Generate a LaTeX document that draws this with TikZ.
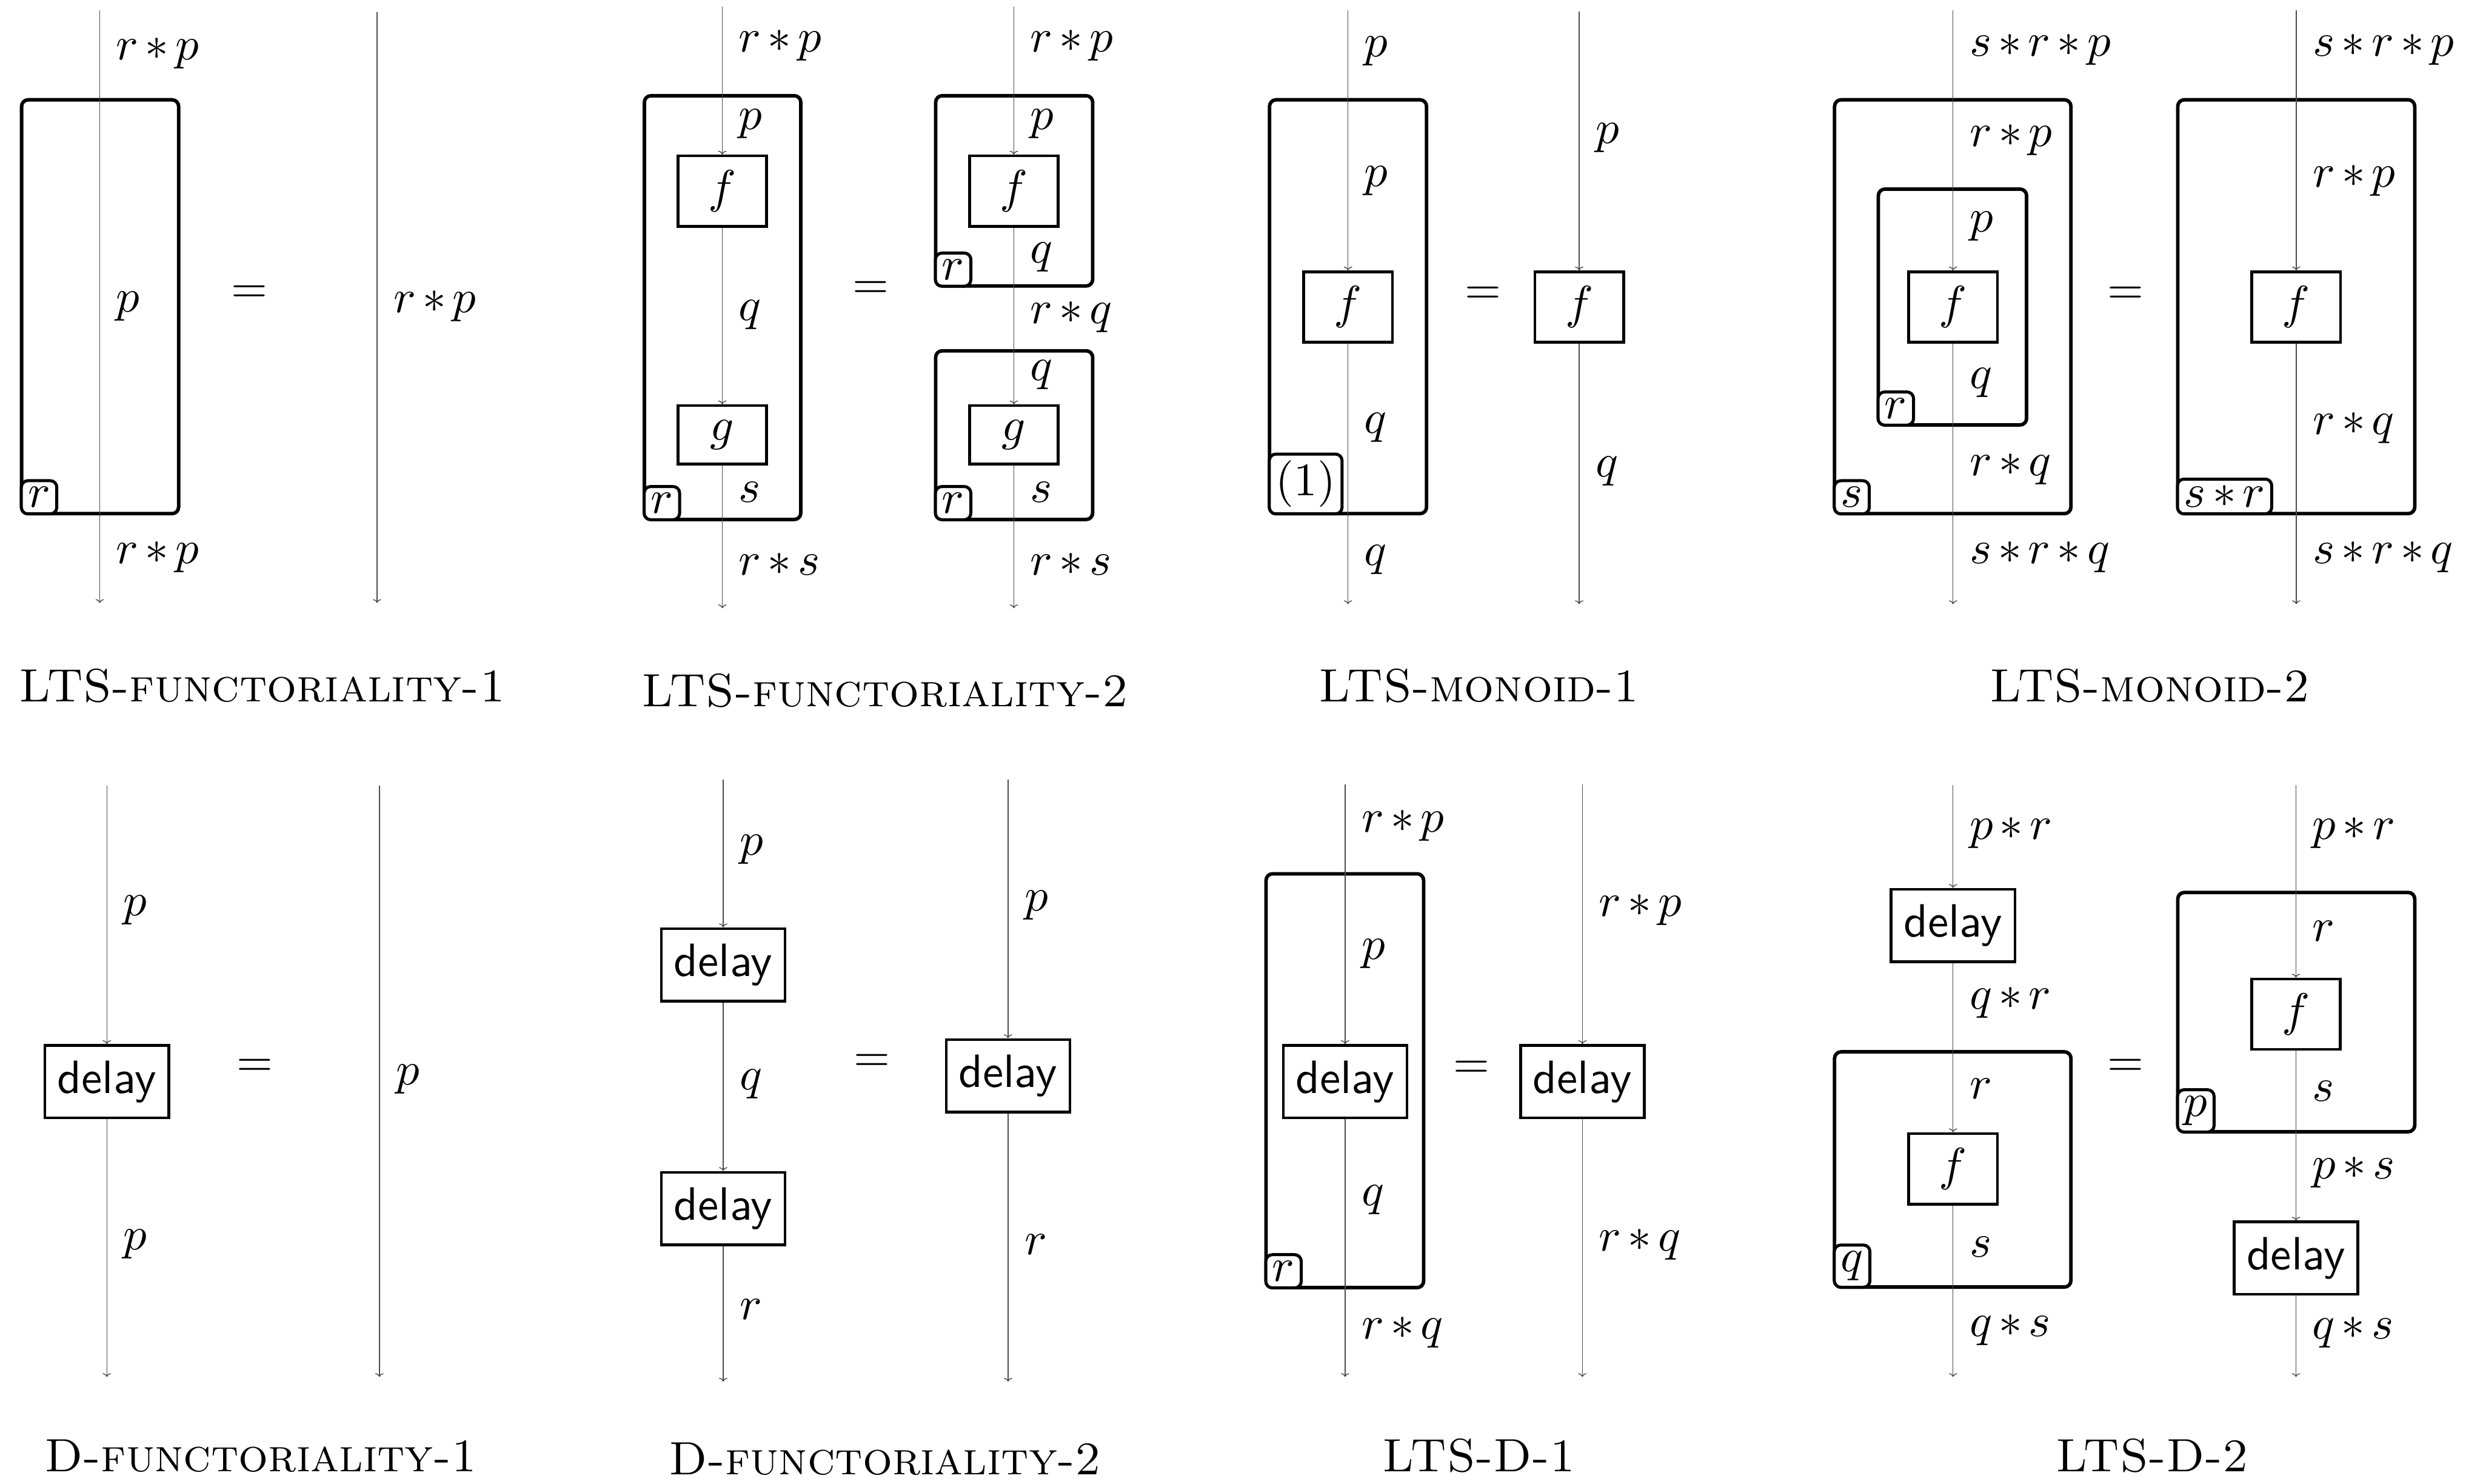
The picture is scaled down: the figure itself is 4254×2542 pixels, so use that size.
\documentclass[tikz,border=0pt]{standalone}
\usetikzlibrary{arrows.meta,fit}
\medmuskip=2.6mu plus 1mu minus 1mu
\tikzset{
  wire/.style={line width=0.18pt, draw=black!70},
  arr/.style={wire, -{To[length=0.8pt,width=1.8pt]}},
  lbl/.style={anchor=west},
  frm/.style={draw, line width=0.75pt, rounded corners=1.4pt, inner sep=0pt},
  tagbox/.style={draw, line width=0.65pt, rounded corners=1.4pt, inner sep=1.4pt, anchor=south west, fill=white},
  fbox/.style={draw, line width=0.6pt, minimum width=19pt, minimum height=15.1pt, inner sep=0pt, fill=white},
  gbox/.style={fbox, minimum height=12.5pt},
  dbox/.style={draw, line width=0.6pt, minimum width=26.5pt, minimum height=15.5pt, inner sep=0pt, font=\sffamily, fill=white},
  captxt/.style={font=\scshape}
}
\begin{document}
\begin{tikzpicture}[x=0.125pt,y=-0.125pt]
\useasboundingbox (0,0) rectangle (4254,2542);

% ================= LTS-functoriality-1 =================
\node[frm, fit={(37,171) (306,880)}] (B1) {};
\node[tagbox] (T1) at (B1.south west) {$r$};
\coordinate (w1t) at (171,18);
\coordinate (w1b) at (171,1033);
\draw[arr] (w1t) -- (w1b);
\node[lbl] (l1a) at (171,92) {$r*p$};
\node[lbl] (l1b) at (171,525) {$p$};
\node[lbl] (l1c) at (171,955) {$r*p$};
\node (e1) at (427,504) {$=$};
\coordinate (w1rt) at (646,21);
\coordinate (w1rb) at (646,1033);
\draw[arr] (w1rt) -- (w1rb);
\node[lbl] (l1d) at (646,525) {$r*p$};
\node[captxt] (c1) at (449,1175) {LTS-functoriality-1};

% ================= LTS-functoriality-2 =================
\node[frm, fit={(1104,164) (1372,890)}] (B2) {};
\node[tagbox] (T2) at (B2.south west) {$r$};
\node[fbox] (F2) at (1237.5,327.5) {$f$};
\node[gbox] (G2) at (1237.5,745) {$g$};
\coordinate (w2t) at (1237.5,11);
\coordinate (w2b) at (1237.5,1042);
\draw[arr] (w2t) -- (F2.north);
\draw[arr] (F2.south) -- (G2.north);
\draw[arr] (G2.south) -- (w2b);
\node[lbl] (l2a) at (1237.5,78) {$r*p$};
\node[lbl] (l2b) at (1237.5,212) {$p$};
\node[lbl] (l2c) at (1237.5,539) {$q$};
\node[lbl] (l2d) at (1237.5,843) {$s$};
\node[lbl] (l2e) at (1237.5,966) {$r*s$};
\node (e2) at (1492,497) {$=$};
\node[frm, fit={(1603,164) (1872,490)}] (B2a) {};
\node[tagbox] (T2a) at (B2a.south west) {$r$};
\node[frm, fit={(1603,601) (1872,890)}] (B2b) {};
\node[tagbox] (T2b) at (B2b.south west) {$r$};
\node[fbox] (F2r) at (1737,327.5) {$f$};
\node[gbox] (G2r) at (1737,745) {$g$};
\coordinate (w2rt) at (1737,11);
\coordinate (w2rb) at (1737,1042);
\draw[arr] (w2rt) -- (F2r.north);
\draw[arr] (F2r.south) -- (G2r.north);
\draw[arr] (G2r.south) -- (w2rb);
\node[lbl] (l2f) at (1737,78) {$r*p$};
\node[lbl] (l2g) at (1737,212) {$p$};
\node[lbl] (l2h) at (1737,441) {$q$};
\node[lbl] (l2i) at (1737,543) {$r*q$};
\node[lbl] (l2j) at (1737,642) {$q$};
\node[lbl] (l2k) at (1737,843) {$s$};
\node[lbl] (l2l) at (1737,966) {$r*s$};
\node[captxt] (c2) at (1516,1183) {LTS-functoriality-2};

% ================= LTS-monoid-1 =================
\node[frm, fit={(2175,171) (2444,880)}] (B3) {};
\node[tagbox] (T3) at (B3.south west) {$(1)$};
\node[fbox] (F3) at (2309.5,526) {$f$};
\coordinate (w3t) at (2309.5,18);
\coordinate (w3b) at (2309.5,1035);
\draw[arr] (w3t) -- (F3.north);
\draw[arr] (F3.south) -- (w3b);
\node[lbl] (l3a) at (2309.5,88) {$p$};
\node[lbl] (l3b) at (2309.5,310) {$p$};
\node[lbl] (l3c) at (2309.5,733) {$q$};
\node[lbl] (l3d) at (2309.5,959) {$q$};
\node (e3) at (2541,506) {$=$};
\node[fbox] (F3r) at (2705.5,526) {$f$};
\coordinate (w3rt) at (2705.5,20);
\coordinate (w3rb) at (2705.5,1035);
\draw[arr] (w3rt) -- (F3r.north);
\draw[arr] (F3r.south) -- (w3rb);
\node[lbl] (l3e) at (2705.5,236) {$p$};
\node[lbl] (l3f) at (2705.5,807) {$q$};
\node[captxt] (c3) at (2534,1175) {LTS-monoid-1};

% ================= LTS-monoid-2 =================
\node[frm, fit={(3143,171) (3548,880)}] (B4) {};
\node[tagbox] (T4) at (B4.south west) {$s$};
\node[frm, fit={(3218,324) (3472,728)}] (B4i) {};
\node[tagbox] (T4i) at (B4i.south west) {$r$};
\node[fbox] (F4) at (3346,526) {$f$};
\coordinate (w4t) at (3346,18);
\coordinate (w4b) at (3346,1035);
\draw[arr] (w4t) -- (F4.north);
\draw[arr] (F4.south) -- (w4b);
\node[lbl] (l4a) at (3346,85) {$s*r*p$};
\node[lbl] (l4b) at (3346,240) {$r*p$};
\node[lbl] (l4c) at (3346,388) {$p$};
\node[lbl] (l4d) at (3346,656) {$q$};
\node[lbl] (l4e) at (3346,804) {$r*q$};
\node[lbl] (l4f) at (3346,955) {$s*r*q$};
\node (e4) at (3642,506) {$=$};
\node[frm, fit={(3731,171) (4137,880)}] (B4r) {};
\node[tagbox] (T4r) at (B4r.south west) {$s*r$};
\node[fbox] (F4r) at (3934,526) {$f$};
\coordinate (w4rt) at (3934,18);
\coordinate (w4rb) at (3934,1035);
\draw[arr] (w4rt) -- (F4r.north);
\draw[arr] (F4r.south) -- (w4rb);
\node[lbl] (l4g) at (3934,85) {$s*r*p$};
\node[lbl] (l4h) at (3934,310) {$r*p$};
\node[lbl] (l4i) at (3934,733) {$r*q$};
\node[lbl] (l4j) at (3934,955) {$s*r*q$};
\node[captxt] (c4) at (3683,1175) {LTS-monoid-2};

% ================= D-functoriality-1 =================
\node[dbox] (D5) at (183,1853) {delay};
\coordinate (w5t) at (183,1346);
\coordinate (w5b) at (183,2359);
\draw[arr] (w5t) -- (D5.north);
\draw[arr] (D5.south) -- (w5b);
\node[lbl] (l5a) at (183,1559) {$p$};
\node[lbl] (l5b) at (183,2132) {$p$};
\node (e5) at (437,1829) {$=$};
\coordinate (w5rt) at (650,1346);
\coordinate (w5rb) at (650,2359);
\draw[arr] (w5rt) -- (w5rb);
\node[lbl] (l5c) at (650,1849) {$p$};
\node[captxt] (c5) at (447,2494) {D-functoriality-1};

% ================= D-functoriality-2 =================
\node[dbox] (D6a) at (1239,1653) {delay};
\node[dbox] (D6b) at (1239,2070.5) {delay};
\coordinate (w6t) at (1239,1336);
\coordinate (w6b) at (1239,2367);
\draw[arr] (w6t) -- (D6a.north);
\draw[arr] (D6a.south) -- (D6b.north);
\draw[arr] (D6b.south) -- (w6b);
\node[lbl] (l6a) at (1239,1455) {$p$};
\node[lbl] (l6b) at (1239,1857) {$q$};
\node[lbl] (l6c) at (1239,2243) {$r$};
\node (e6) at (1494,1821) {$=$};
\node[dbox] (D6r) at (1727,1843) {delay};
\coordinate (w6rt) at (1727,1336);
\coordinate (w6rb) at (1727,2367);
\draw[arr] (w6rt) -- (D6r.north);
\draw[arr] (D6r.south) -- (w6rb);
\node[lbl] (l6d) at (1727,1551) {$p$};
\node[lbl] (l6e) at (1727,2132) {$r$};
\node[captxt] (c6) at (1516,2500) {D-functoriality-2};

% ================= LTS-D-1 =================
\node[frm, fit={(2169,1497) (2439,2206)}] (B7) {};
\node[tagbox] (T7) at (B7.south west) {$r$};
\node[dbox] (D7) at (2304.5,1853) {delay};
\coordinate (w7t) at (2304.5,1344);
\coordinate (w7b) at (2304.5,2359);
\draw[arr] (w7t) -- (D7.north);
\draw[arr] (D7.south) -- (w7b);
\node[lbl] (l7a) at (2304.5,1415) {$r*p$};
\node[lbl] (l7b) at (2304.5,1634) {$p$};
\node[lbl] (l7c) at (2304.5,2056) {$q$};
\node[lbl] (l7d) at (2304.5,2283) {$r*q$};
\node (e7) at (2521,1832) {$=$};
\node[dbox] (D7r) at (2711,1853) {delay};
\coordinate (w7rt) at (2711,1344);
\coordinate (w7rb) at (2711,2359);
\draw[arr] (w7rt) -- (D7r.north);
\draw[arr] (D7r.south) -- (w7rb);
\node[lbl] (l7e) at (2711,1559) {$r*p$};
\node[lbl] (l7f) at (2711,2132) {$r*q$};
\node[captxt] (c7) at (2534,2494) {LTS-D-1};

% ================= LTS-D-2 =================
\node[frm, fit={(3143,1802) (3548,2205)}] (B8) {};
\node[tagbox] (T8) at (B8.south west) {$q$};
\node[dbox] (D8) at (3346,1585.5) {delay};
\node[fbox] (F8) at (3346,2002.5) {$f$};
\coordinate (w8t) at (3346,1345);
\coordinate (w8b) at (3346,2359);
\draw[arr] (w8t) -- (D8.north);
\draw[arr] (D8.south) -- (F8.north);
\draw[arr] (F8.south) -- (w8b);
\node[lbl] (l8a) at (3346,1427) {$p*r$};
\node[lbl] (l8b) at (3346,1718) {$q*r$};
\node[lbl] (l8c) at (3346,1865) {$r$};
\node[lbl] (l8d) at (3346,2136) {$s$};
\node[lbl] (l8e) at (3346,2279) {$q*s$};
\node (e8) at (3642,1829) {$=$};
\node[frm, fit={(3731,1529) (4137,1939)}] (B8r) {};
\node[tagbox] (T8r) at (B8r.south west) {$p$};
\node[fbox] (F8r) at (3933.5,1737.5) {$f$};
\node[dbox] (D8r) at (3933.5,2155.5) {delay};
\coordinate (w8rt) at (3933.5,1345);
\coordinate (w8rb) at (3933.5,2359);
\draw[arr] (w8rt) -- (F8r.north);
\draw[arr] (F8r.south) -- (D8r.north);
\draw[arr] (D8r.south) -- (w8rb);
\node[lbl] (l8f) at (3933.5,1427) {$p*r$};
\node[lbl] (l8g) at (3933.5,1595) {$r$};
\node[lbl] (l8h) at (3933.5,1869) {$s$};
\node[lbl] (l8i) at (3933.5,2009) {$p*s$};
\node[lbl] (l8j) at (3933.5,2283) {$q*s$};
\node[captxt] (c8) at (3687,2494) {LTS-D-2};
\end{tikzpicture}
\end{document}
